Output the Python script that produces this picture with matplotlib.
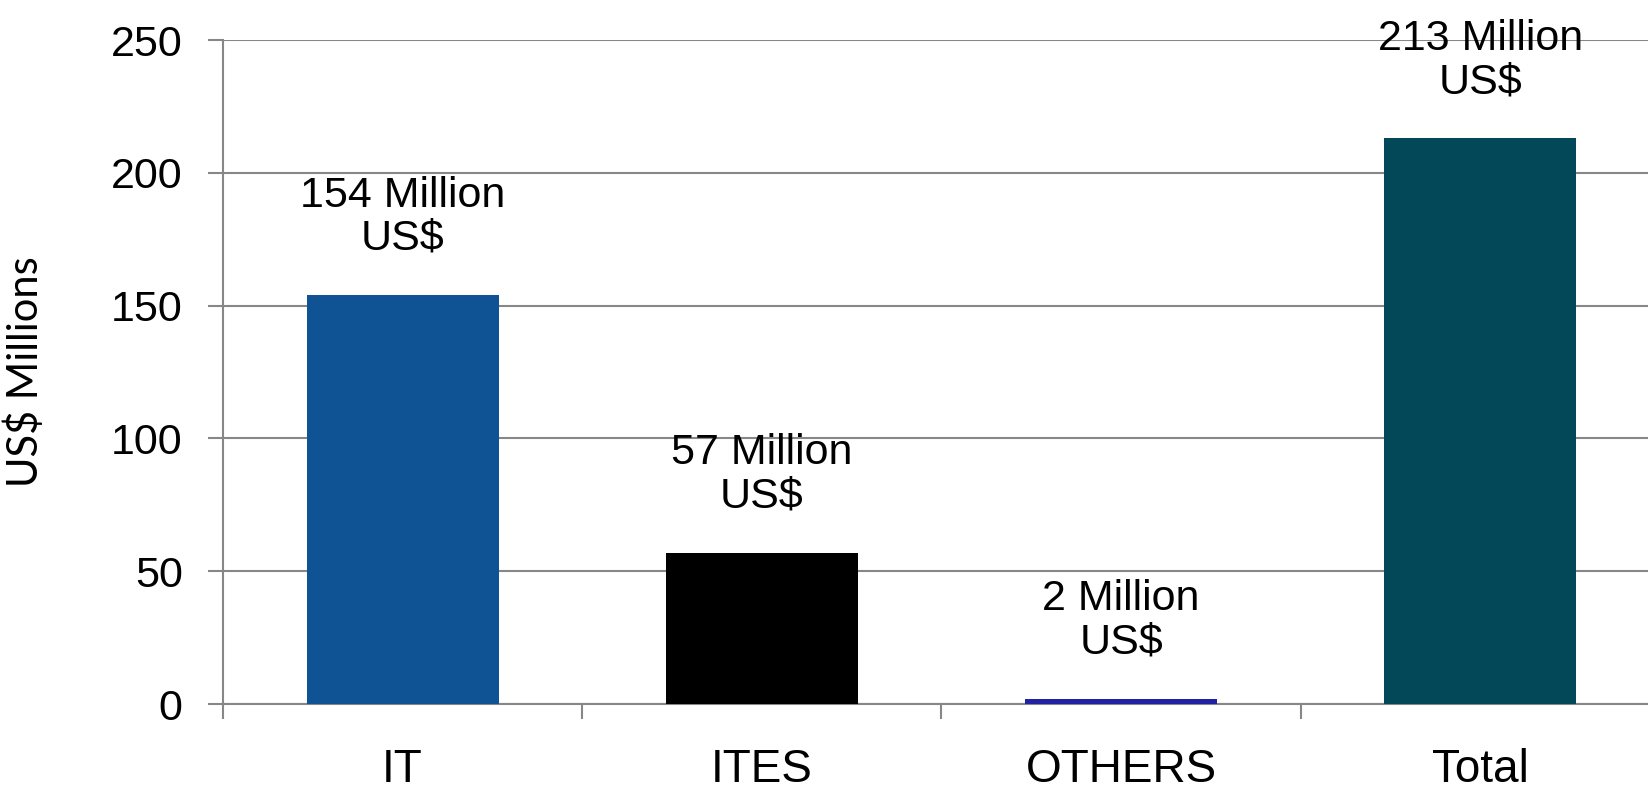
import matplotlib
matplotlib.use("Agg")
import matplotlib.pyplot as plt
from matplotlib.ticker import FixedLocator

categories = ['IT', 'ITES', 'OTHERS', 'Total']
values = [154, 57, 2, 213]
labels = ['154 Million\nUS$', '57 Million\nUS$', '2 Million\nUS$', '213 Million\nUS$']
colors = ['#0F5394', '#000000', '#2121A3', '#034858']
yticks = [0, 50, 100, 150, 200, 250]

plt.rcParams['font.family'] = ['Liberation Sans', 'DejaVu Sans']

fig = plt.figure(figsize=(16.49, 7.94), dpi=100)
# axes runs slightly past the right edge, as in the original
ax = fig.add_axes([223 / 1649, 90 / 794, 1437 / 1649, 664 / 794])

x = list(range(len(categories)))
ax.bar(x, values, width=0.535, color=colors, zorder=3)

for xi, v, lab in zip(x, values, labels):
    ax.annotate(lab, (xi, v), xytext=(0, 26), textcoords='offset points',
                ha='center', va='bottom', fontsize=31, linespacing=1.1,
                zorder=4)

ax.set_xlim(-0.5, 3.5)
ax.set_ylim(0, 250)
ax.set_yticks(yticks)
ax.set_xticks(x)
ax.set_xticklabels(categories, fontsize=33)
ax.xaxis.set_minor_locator(FixedLocator([-0.5, 0.5, 1.5, 2.5]))
ax.tick_params(axis='x', which='major', length=0, pad=32)
ax.tick_params(axis='x', which='minor', length=11, width=1.5, color='#878787')
ax.tick_params(axis='y', length=11, width=1.5, color='#878787', pad=18, labelsize=31)

ax.grid(axis='y', color='#878787', linewidth=1.5, zorder=0)
for s in ['top', 'right']:
    ax.spines[s].set_visible(False)
for s in ['left', 'bottom']:
    ax.spines[s].set_color('#878787')
    ax.spines[s].set_linewidth(1.5)

ax.set_ylabel('US$ Millions', fontsize=30, family=['Lato', 'DejaVu Sans'])
ax.yaxis.set_label_coords(-178 / 1437, 0.5)

fig.savefig('out.png', dpi=100)
